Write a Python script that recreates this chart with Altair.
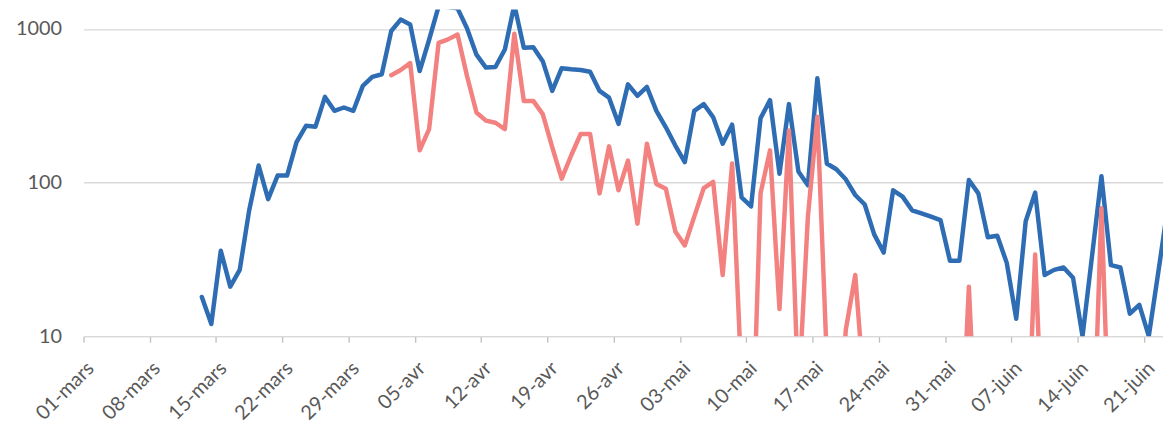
import json
import altair as alt
import pandas as pd

# ---- data (daily values, log scale) ----
blue_start = "2020-03-13"
blue_values = [
    18, 12, 36, 21, 27, 66, 129, 78, 111, 111,          # 13-22 mars
    183, 234, 231, 361, 293, 308, 293, 426, 487, 507,   # 23 mars - 01 avr
    970, 1150, 1070, 532, 850, 1400, 1390, 1360, 1010, 680,  # 02-11 avr
    560, 565, 735, 1436, 753, 760, 617, 395, 555, 546,  # 12-21 avr
    540, 526, 395, 357, 241, 436, 367, 419, 293, 229,   # 22 avr - 01 mai
    174, 136, 293, 324, 266, 179, 238, 80, 70, 262,     # 02-11 mai
    344, 114, 324, 118, 96, 477, 133, 122, 105, 83,     # 12-21 mai
    72, 46, 35, 89, 81, 66, 63, 60, 57, 31,             # 22-31 mai
    31, 104, 85, 44, 45, 30, 13, 56, 86, 25,            # 01-10 juin
    27, 28, 24, 10, 33, 110, 29, 28, 14, 16,            # 11-20 juin
    10, 26, 69,                                         # 21-23 juin
]

red_start = "2020-04-02"
red_values = [
    500, 540, 600, 162, 223, 811, 855, 920, 494, 286,   # 02-11 avr
    253, 245, 223, 930, 340, 340, 279, 170, 106, 150,   # 12-21 avr
    207, 207, 85, 172, 89, 139, 54, 179, 98, 91,        # 22 avr - 01 mai
    48, 39, 60, 92, 101, 25, 133, 5, 1, 85,             # 02-11 mai
    162, 15, 218, 4, 60, 268, 7, 1, 11, 25,             # 12-21 mai
    4, 1, 1, 1, 1, 1, 1, 1, 1, 1,                       # 22-31 mai
    1, 21, 1, 1, 1, 1, 1, 1, 34, 1,                     # 01-10 juin
    1, 1, 1, 1, 1, 68, 1, 1, 1, 1,                      # 11-20 juin
    1, 1, 1,                                            # 21-23 juin
]

month_names = ["janv", "févr", "mars", "avr", "mai", "juin", "juil"]
tick_start = "2020-03-01"
tick_count = 17
y_ticks = [10, 100, 1000]
y_domain = [10, 1339]

blue_color = "#2E6DB4"
red_color = "#F28180"


def frame(start, values):
    dates = pd.date_range(start, periods=len(values), freq="D") + pd.Timedelta(hours=12)
    return pd.DataFrame({"date": dates.strftime("%Y-%m-%dT%H:%M:%S"), "value": values})


tick_dates = pd.date_range(tick_start, periods=tick_count, freq="7D")
tick_values = [alt.DateTime(year=d.year, month=d.month, date=d.day) for d in tick_dates]

label_expr = (
    "timeFormat(datum.value, '%d') + '-' + "
    + json.dumps(month_names, ensure_ascii=False)
    + "[month(datum.value)]"
)

FONT = "Lato"
FS = 20
LABEL = "#595959"

x_enc = alt.X(
    "date:T",
    scale=alt.Scale(
        domain=[alt.DateTime(year=2020, month=3, date=1), alt.DateTime(year=2020, month=6, date=23)],
        nice=False,
    ),
    axis=alt.Axis(
        values=tick_values,
        labelExpr=label_expr,
        labelAngle=-45,
        labelAlign="right",
        labelBaseline="middle",
        labelOffset=7,
        labelPadding=23,
        labelFlush=False,
        labelOverlap=False,
        tickSize=6,
        tickColor="#bfbfbf",
        tickWidth=1.3,
        domainColor="#d9d9d9",
        domainWidth=1.3,
        grid=False,
        title=None,
        labelFont=FONT,
        labelFontSize=FS,
        labelColor=LABEL,
    ),
)

y_enc = alt.Y(
    "value:Q",
    scale=alt.Scale(type="log", domain=y_domain, nice=False),
    axis=alt.Axis(
        values=y_ticks,
        format="d",
        grid=True,
        gridColor="#d9d9d9",
        gridWidth=1.3,
        domain=False,
        ticks=False,
        tickSize=0,
        labelPadding=22,
        title=None,
        labelFont=FONT,
        labelFontSize=FS,
        labelColor=LABEL,
    ),
)


def line(df, color):
    return (
        alt.Chart(df)
        .mark_line(color=color, strokeWidth=4.5, strokeJoin="round", strokeCap="round", clip=True)
        .encode(x=x_enc, y=y_enc)
    )


chart = (
    alt.layer(line(frame(blue_start, blue_values), blue_color), line(frame(red_start, red_values), red_color))
    .properties(
        width=1087,
        height=329,
        autosize=alt.AutoSizeParams(type="none"),
        padding={"left": 76, "top": 0, "right": 0, "bottom": 90},
    )
    .configure_view(stroke=None)
)

chart.save("out.html", embed_options={"renderer": "svg", "actions": False})
